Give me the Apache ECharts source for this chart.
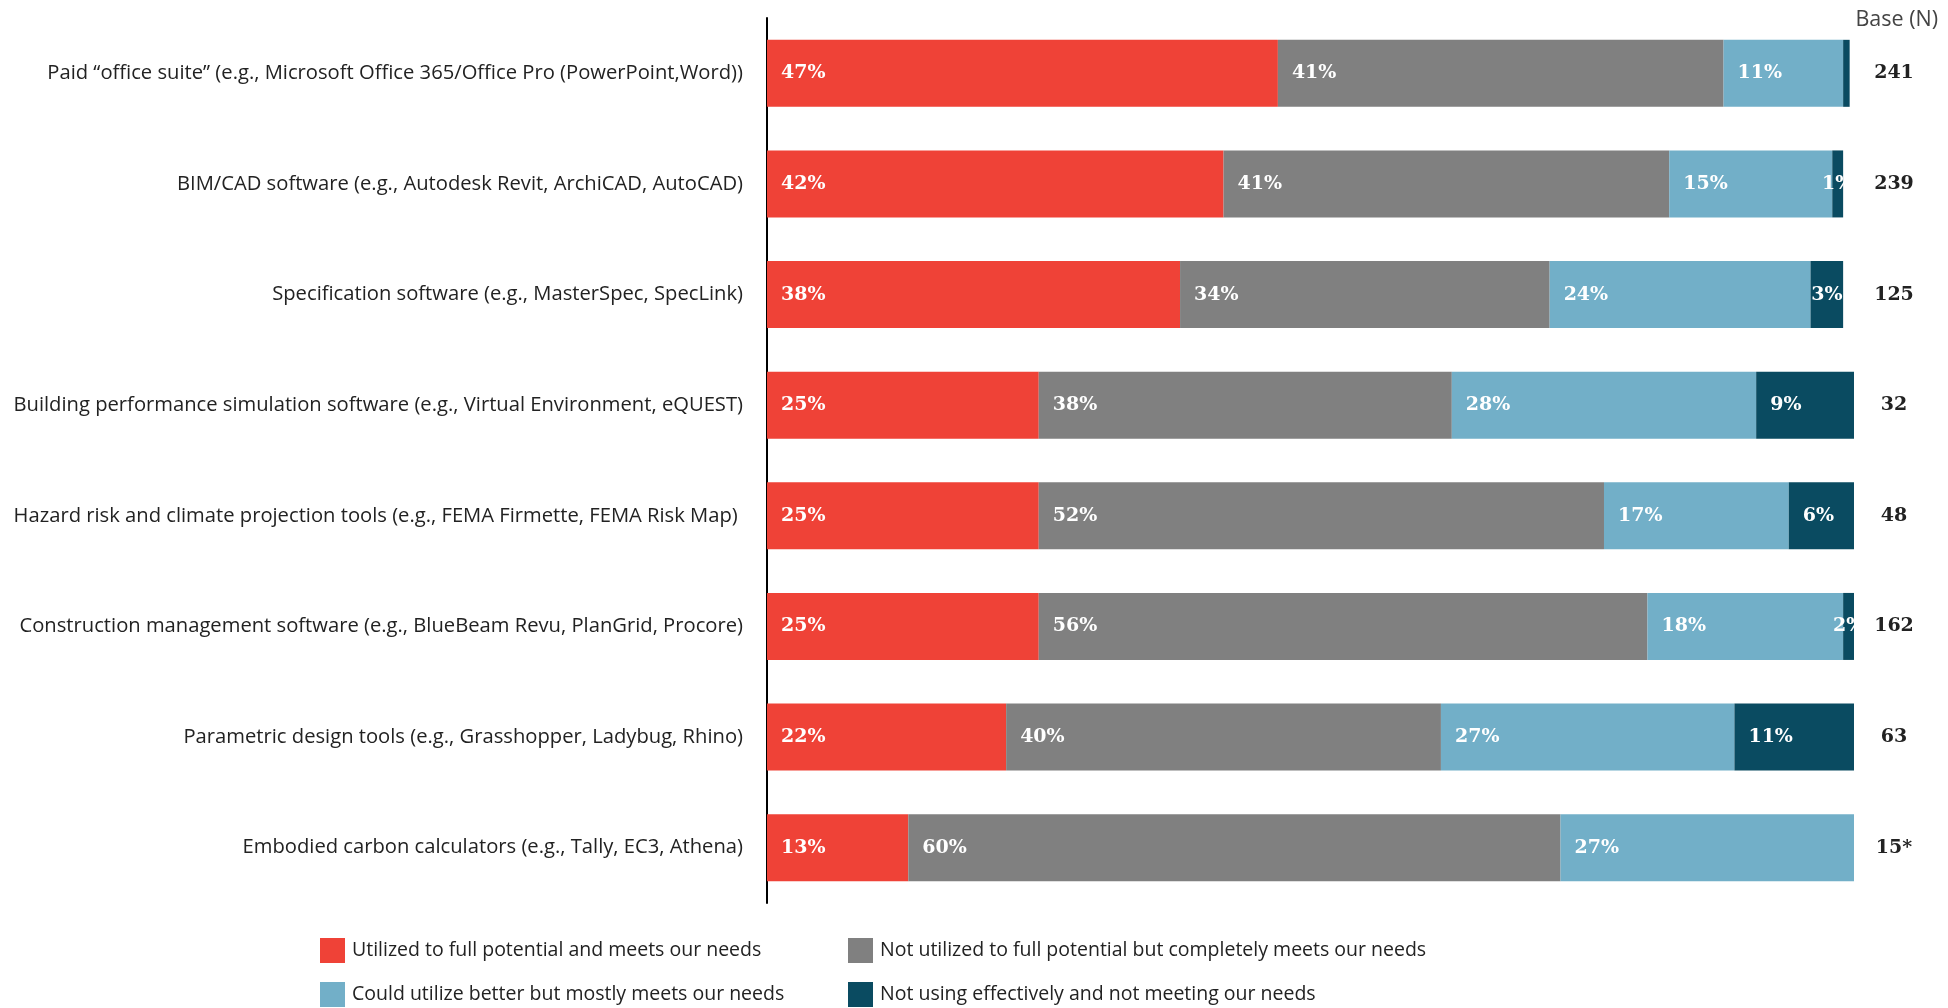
<!DOCTYPE html>
<html>
<head>
<meta charset="utf-8">
<title>Software utilization</title>
<script src="https://cdn.jsdelivr.net/npm/echarts@6/dist/echarts.min.js"></script>
<style>
  html, body { margin: 0; padding: 0; background: #ffffff; }
  #chart { width: 1948px; height: 1008px; }
</style>
</head>
<body>
<div id="chart"></div>
<script>
// Tools / software categories (top to bottom)
const categories = [
  'Paid \u201coffice suite\u201d (e.g., Microsoft Office 365/Office Pro (PowerPoint,Word))',
  'BIM/CAD software (e.g., Autodesk Revit, ArchiCAD, AutoCAD)',
  'Specification software (e.g., MasterSpec, SpecLink)',
  'Building performance simulation software (e.g., Virtual Environment, eQUEST)',
  'Hazard risk and climate projection tools (e.g., FEMA Firmette, FEMA Risk Map) ',
  'Construction management software (e.g., BlueBeam Revu, PlanGrid, Procore)',
  'Parametric design tools (e.g., Grasshopper, Ladybug, Rhino)',
  'Embodied carbon calculators (e.g., Tally, EC3, Athena)'
];

const seriesNames = [
  'Utilized to full potential and meets our needs',
  'Not utilized to full potential but completely meets our needs',
  'Could utilize better but mostly meets our needs',
  'Not using effectively and not meeting our needs'
];

// Share of respondents (%)
const fullPotential      = [47, 42, 38, 25, 25, 25, 22, 13];
const notFullButMeets    = [41, 41, 34, 38, 52, 56, 40, 60];
const couldUtilizeBetter = [11, 15, 24, 28, 17, 18, 27, 27];
const notEffective       = [0.6, 1, 3, 9, 6, 2, 11, 0];

// Respondent base per tool
const baseN = ['241', '239', '125', '32', '48', '162', '63', '15*'];

const colors = ['#EF4237', '#808080', '#72AFC8', '#0A4B61'];

const SANS = '"Open Sans", "Noto Sans", Roboto, sans-serif';
const SLAB = '"DejaVu Serif", serif';

function buildData(values) {
  return values.map(function (v) {
    if (!v || v < 1) return { value: v, label: { show: false } };
    // narrow segments get their label centred
    if (v < 5) return { value: v, label: { position: 'inside' } };
    return { value: v };
  });
}

const seriesValues = [fullPotential, notFullButMeets, couldUtilizeBetter, notEffective];

const series = seriesValues.map(function (vals, i) {
  return {
    name: seriesNames[i],
    type: 'bar',
    stack: 'total',
    barWidth: 67,
    itemStyle: { color: colors[i] },
    label: {
      show: true,
      position: 'insideLeft',
      distance: 14,
      color: '#ffffff',
      fontFamily: SLAB,
      fontWeight: 'bold',
      fontSize: 19,
      formatter: function (p) { return Math.round(p.value) + '%'; }
    },
    emphasis: { disabled: true },
    data: buildData(vals)
  };
});

const chart = echarts.init(document.getElementById('chart'), null, { renderer: 'canvas' });

const legendCommon = {
  orient: 'vertical',
  top: 933,
  height: 90,
  itemWidth: 25,
  itemHeight: 25,
  itemGap: 19,
  icon: 'rect',
  selectedMode: false,
  textStyle: { color: '#222222', fontFamily: SANS, fontSize: 19.5, padding: [0, 0, 0, 2] }
};

chart.setOption({
  animation: false,
  backgroundColor: '#ffffff',
  color: colors,
  grid: { left: 767, right: 94, top: 18, bottom: 105, containLabel: false },
  xAxis: {
    type: 'value',
    min: 0,
    max: 100,
    show: false
  },
  yAxis: [
    {
      type: 'category',
      data: categories,
      inverse: true,
      axisLine: { show: true, lineStyle: { color: '#000000', width: 2 } },
      axisTick: { show: false },
      axisLabel: {
        margin: 24,
        color: '#222222',
        fontFamily: SANS,
        fontSize: 20.2
      }
    },
    {
      type: 'category',
      data: baseN,
      inverse: true,
      position: 'right',
      axisLine: { show: false },
      axisTick: { show: false },
      axisLabel: {
        margin: 40,
        align: 'center',
        color: '#222222',
        fontFamily: SLAB,
        fontWeight: 'bold',
        fontSize: 19
      }
    }
  ],
  legend: [
    Object.assign({}, legendCommon, { data: [seriesNames[0], seriesNames[2]], left: 315 }),
    Object.assign({}, legendCommon, { data: [seriesNames[1], seriesNames[3]], left: 843 })
  ],
  graphic: [
    {
      type: 'text',
      right: 10,
      top: 9,
      style: {
        text: 'Base (N)',
        fill: '#444444',
        font: '21.5px ' + SANS
      }
    }
  ],
  series: series
});
</script>
</body>
</html>
